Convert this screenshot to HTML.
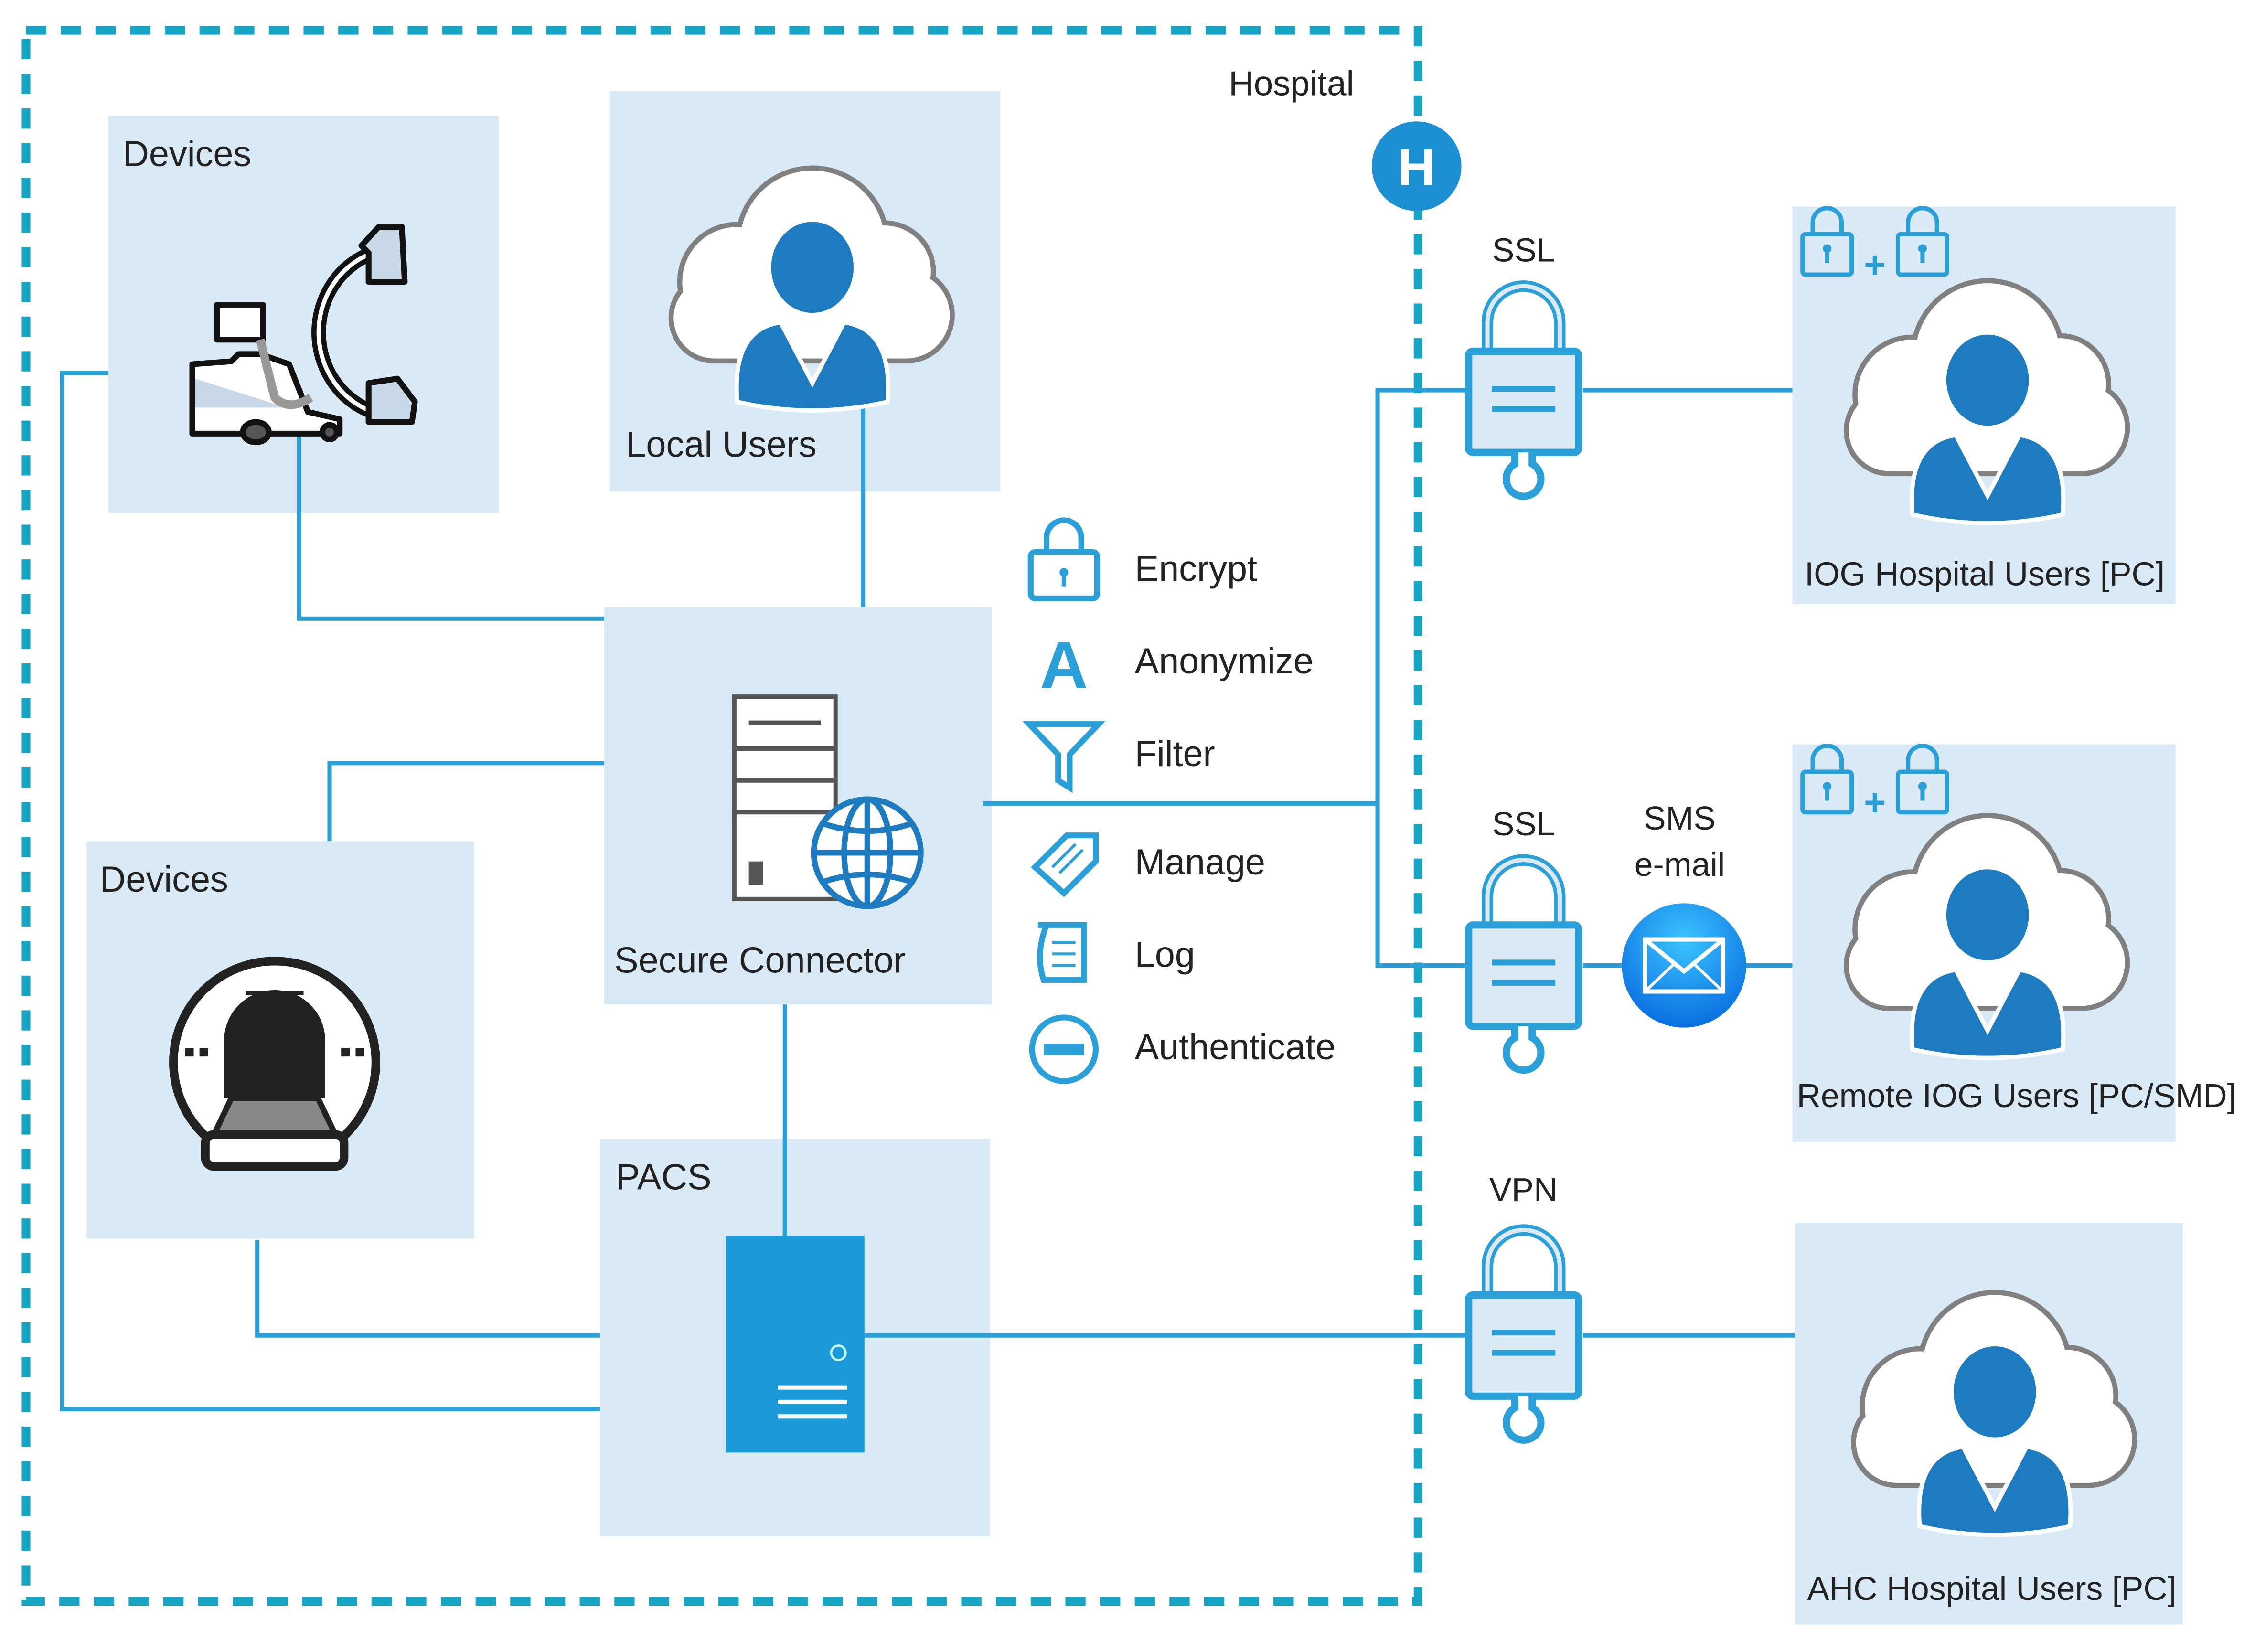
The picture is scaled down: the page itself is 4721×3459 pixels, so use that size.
<!DOCTYPE html>
<html><head><meta charset="utf-8"><style>
html,body{margin:0;padding:0;background:#fff;}
svg{display:block;}
text{font-family:"Liberation Sans",sans-serif;fill:#222;}
</style></head><body>
<svg width="4721" height="3459" viewBox="0 0 1560 1143" preserveAspectRatio="none" xmlns="http://www.w3.org/2000/svg">
<defs>
<g id="cloud">
  <g fill="none" stroke="#808080" stroke-width="7">
    <circle cx="-52" cy="5" r="38"/><circle cx="0" cy="-22" r="50"/><circle cx="50" cy="-2" r="32"/>
    <circle cx="65" cy="28" r="30"/><circle cx="-68" cy="30" r="28"/><rect x="-68" y="10" width="133" height="48"/>
  </g>
  <g fill="#fff">
    <circle cx="-52" cy="5" r="38"/><circle cx="0" cy="-22" r="50"/><circle cx="50" cy="-2" r="32"/>
    <circle cx="65" cy="28" r="30"/><circle cx="-68" cy="30" r="28"/><rect x="-68" y="10" width="133" height="48"/>
  </g>
  <ellipse cx="0" cy="-5" rx="30" ry="33" fill="#1f7bc0" stroke="#fff" stroke-width="3"/>
  <path d="M-52,88 Q-56,38 -22,33 L0,75 L22,33 Q56,38 52,88 Q0,100 -52,88Z" fill="#1f7bc0" stroke="#fff" stroke-width="3"/>
</g>
<g id="lock">
  <path d="M-25,38 v-20 a25,25 0 0 1 50,0 v20" fill="none" stroke="#2a9fd8" stroke-width="8"/>
  <path d="M-25,38 v-20 a25,25 0 0 1 50,0 v20" fill="none" stroke="#dceaf6" stroke-width="3"/>
  <rect x="-38" y="38" width="76" height="70" rx="3" fill="#dceaf6" stroke="#2a9fd8" stroke-width="5"/>
  <line x1="-22" y1="64" x2="22" y2="64" stroke="#2a9fd8" stroke-width="4"/>
  <line x1="-22" y1="78" x2="22" y2="78" stroke="#2a9fd8" stroke-width="4"/>
  <path d="M-6,108 v8 a12,12 0 1 0 12,0 v-8" fill="#fff" stroke="#2a9fd8" stroke-width="5"/>
</g>
<g id="smalllock">
  <path d="M-10,10 v-8 a10,10 0 0 1 20,0 v8" fill="none" stroke="#2a9fd8" stroke-width="3"/>
  <rect x="-17" y="10" width="34" height="28" rx="2" fill="#dceaf6" stroke="#2a9fd8" stroke-width="3"/>
  <circle cx="0" cy="20" r="3" fill="#2a9fd8"/><rect x="-1.5" y="20" width="3" height="10" fill="#2a9fd8"/>
</g>
<radialGradient id="env" cx="0.5" cy="0.3" r="0.7"><stop offset="0" stop-color="#3cc4ff"/><stop offset="1" stop-color="#0a6fe0"/></radialGradient>
</defs>

<g fill="#d9e9f6">
<rect x="75" y="80" width="270" height="275"/>
<rect x="422" y="63" width="270" height="277"/>
<rect x="418" y="420" width="268" height="275"/>
<rect x="60" y="582" width="268" height="275"/>
<rect x="415" y="788" width="270" height="275"/>
<rect x="1240" y="143" width="265" height="275"/>
<rect x="1240" y="515" width="265" height="275"/>
<rect x="1242" y="846" width="268" height="278"/>
</g>

<rect x="18" y="21" width="963" height="1087" fill="none" stroke="#17a5c6" stroke-width="6" stroke-dasharray="14,10"/>
<text x="850" y="66" font-size="24">Hospital</text>
<circle cx="980" cy="115" r="31" fill="#1b8fd2"/>
<text x="980" y="128" font-size="36" font-weight="bold" text-anchor="middle" style="fill:#fff">H</text>

<g fill="none" stroke="#2a9fd8" stroke-width="3">
<polyline points="207,300 207,428 418,428"/>
<line x1="597" y1="272" x2="597" y2="420"/>
<polyline points="75,258 43,258 43,975 415,975"/>
<polyline points="228,582 228,528 418,528"/>
<polyline points="178,858 178,924 415,924"/>
<line x1="543" y1="695" x2="543" y2="855"/>
<line x1="598" y1="924" x2="1015" y2="924"/>
<line x1="1095" y1="924" x2="1242" y2="924"/>
<line x1="680" y1="556" x2="952" y2="556"/>
<polyline points="1015,270 953,270 953,668 1015,668"/>
<line x1="1095" y1="270" x2="1240" y2="270"/>
<line x1="1095" y1="668" x2="1125" y2="668"/>
<line x1="1207" y1="668" x2="1240" y2="668"/>
</g>

<g font-size="25">
<text x="85" y="115">Devices</text>
<text x="433" y="316">Local Users</text>
<text x="425" y="673">Secure Connector</text>
<text x="69" y="617">Devices</text>
<text x="426" y="823">PACS</text>
<text x="1373" y="405" text-anchor="middle" font-size="23">IOG Hospital Users [PC]</text>
<text x="1243" y="766" font-size="23">Remote IOG Users [PC/SMD]</text>
<text x="1378" y="1107" text-anchor="middle" font-size="23">AHC Hospital Users [PC]</text>
<text x="1054" y="181" text-anchor="middle" font-size="23">SSL</text>
<text x="1054" y="578" text-anchor="middle" font-size="23">SSL</text>
<text x="1054" y="831" text-anchor="middle" font-size="23">VPN</text>
<text x="1162" y="574" text-anchor="middle" font-size="23">SMS</text>
<text x="1162" y="606" text-anchor="middle" font-size="23">e-mail</text>
<text x="785" y="402">Encrypt</text>
<text x="785" y="466">Anonymize</text>
<text x="785" y="530">Filter</text>
<text x="785" y="605">Manage</text>
<text x="785" y="669">Log</text>
<text x="785" y="733">Authenticate</text>
</g>

<use href="#cloud" transform="translate(562,190)"/>
<use href="#cloud" transform="translate(1375,268)"/>
<use href="#cloud" transform="translate(1375,638)"/>
<use href="#cloud" transform="translate(1380,968)"/>

<use href="#lock" transform="translate(1054,205)"/>
<use href="#lock" transform="translate(1054,602)"/>
<use href="#lock" transform="translate(1054,858)"/>
<use href="#smalllock" transform="translate(1264,152)"/>
<use href="#smalllock" transform="translate(1330,152)"/>
<use href="#smalllock" transform="translate(1264,524)"/>
<use href="#smalllock" transform="translate(1330,524)"/>
<text x="1297" y="192" font-size="26" font-weight="bold" text-anchor="middle" style="fill:#2a9fd8">+</text>
<text x="1297" y="564" font-size="26" font-weight="bold" text-anchor="middle" style="fill:#2a9fd8">+</text>

<circle cx="1165" cy="668" r="43" fill="url(#env)"/>
<rect x="1138" y="650" width="54" height="36" fill="none" stroke="#fff" stroke-width="3"/>
<polyline points="1138,650 1165,672 1192,650" fill="none" stroke="#fff" stroke-width="3"/>
<line x1="1138" y1="686" x2="1158" y2="667" stroke="#fff" stroke-width="2"/>
<line x1="1192" y1="686" x2="1172" y2="667" stroke="#fff" stroke-width="2"/>

<rect x="508" y="482" width="70" height="140" fill="#fff" stroke="#555" stroke-width="3"/>
<line x1="518" y1="500" x2="568" y2="500" stroke="#555" stroke-width="3"/>
<line x1="508" y1="518" x2="578" y2="518" stroke="#555" stroke-width="3"/>
<line x1="508" y1="540" x2="578" y2="540" stroke="#555" stroke-width="3"/>
<line x1="508" y1="562" x2="578" y2="562" stroke="#555" stroke-width="3"/>
<rect x="518" y="596" width="10" height="16" fill="#555"/>
<g fill="none" stroke="#1f7bc0" stroke-width="4">
<circle cx="600" cy="590" r="37" fill="#fff"/>
<ellipse cx="600" cy="590" rx="16" ry="37"/>
<line x1="600" y1="553" x2="600" y2="627"/>
<line x1="563" y1="590" x2="637" y2="590"/>
<path d="M570,570 Q600,580 630,570 M570,610 Q600,600 630,610"/>
</g>

<rect x="502" y="855" width="96" height="150" fill="#1a9ad8"/>
<circle cx="580" cy="936" r="5" fill="none" stroke="#cfe" stroke-width="1.5"/>
<g stroke="#fff" stroke-width="3"><line x1="538" y1="960" x2="586" y2="960"/><line x1="538" y1="970" x2="586" y2="970"/><line x1="538" y1="980" x2="586" y2="980"/></g>

<!-- C-arm -->
<g stroke="#111" stroke-width="4" stroke-linejoin="round">
<path d="M258,175 A55,58 0 0 0 258,285" fill="none" stroke-width="10"/>
<path d="M258,175 A55,58 0 0 0 258,285" fill="none" stroke="#fff" stroke-width="3"/>
<path d="M133,252 L133,300 L235,300 L235,290 L213,285 L200,252 L180,245 L165,245 L160,250 Z" fill="#fff"/>
<path d="M135,262 L198,282 L135,282Z" fill="#c8d8e6" stroke="none"/>
<rect x="150" y="211" width="32" height="24" fill="#fff"/>
<path d="M180,235 L190,275 Q200,285 215,275" fill="none" stroke="#999" stroke-width="6"/>
<path d="M250,170 L262,157 L278,157 L280,195 L255,195 L255,175Z" fill="#c8d8e6"/>
<path d="M255,265 L275,262 L287,278 L285,292 L255,292Z" fill="#c8d8e6"/>
<ellipse cx="177" cy="299" rx="9" ry="7" fill="#555"/>
<ellipse cx="228" cy="299" rx="5" ry="5" fill="#555"/>
</g>

<circle cx="190" cy="735" r="70" fill="#fff" stroke="#222" stroke-width="6"/>
<path d="M155,760 L155,720 A35,35 0 0 1 225,720 L225,760Z" fill="#222"/>
<line x1="170" y1="687" x2="210" y2="687" stroke="#222" stroke-width="3"/>
<line x1="170" y1="695" x2="210" y2="695" stroke="#222" stroke-width="3"/>
<g fill="#222"><rect x="128" y="725" width="6" height="6"/><rect x="138" y="725" width="6" height="6"/><rect x="236" y="725" width="6" height="6"/><rect x="246" y="725" width="6" height="6"/></g>
<path d="M148,785 L160,760 L220,760 L232,785Z" fill="#888" stroke="#222" stroke-width="4"/>
<rect x="142" y="785" width="96" height="22" rx="6" fill="#fff" stroke="#222" stroke-width="6"/>

<g fill="none" stroke="#2a9fd8" stroke-width="4">
<path d="M724,382 v-10 a12,12 0 0 1 24,0 v10"/>
<rect x="713" y="382" width="46" height="32" rx="3"/>
<path d="M712,501 L760,501 L740,522 L740,545 L732,540 L732,522 Z"/>
<path d="M716,600 L738,578 L758,578 L758,596 L736,618 Z"/>
<path d="M718,640 L750,640 L750,678 L722,678 Q716,660 724,640"/>
<line x1="728" y1="652" x2="744" y2="652" stroke-width="2"/><line x1="728" y1="660" x2="744" y2="660" stroke-width="2"/><line x1="728" y1="668" x2="744" y2="668" stroke-width="2"/>
<circle cx="736" cy="726" r="22"/>
</g>
<circle cx="736" cy="396" r="3" fill="#2a9fd8"/><rect x="734.5" y="396" width="3" height="10" fill="#2a9fd8"/>
<rect x="722" y="722" width="28" height="8" fill="#2a9fd8"/>
<g stroke="#2a9fd8" stroke-width="2"><line x1="728" y1="600" x2="744" y2="584"/><line x1="733" y1="604" x2="749" y2="588"/></g>
<text x="736" y="476" font-size="46" font-weight="bold" text-anchor="middle" style="fill:#2a9fd8">A</text>
</svg>
</body></html>
